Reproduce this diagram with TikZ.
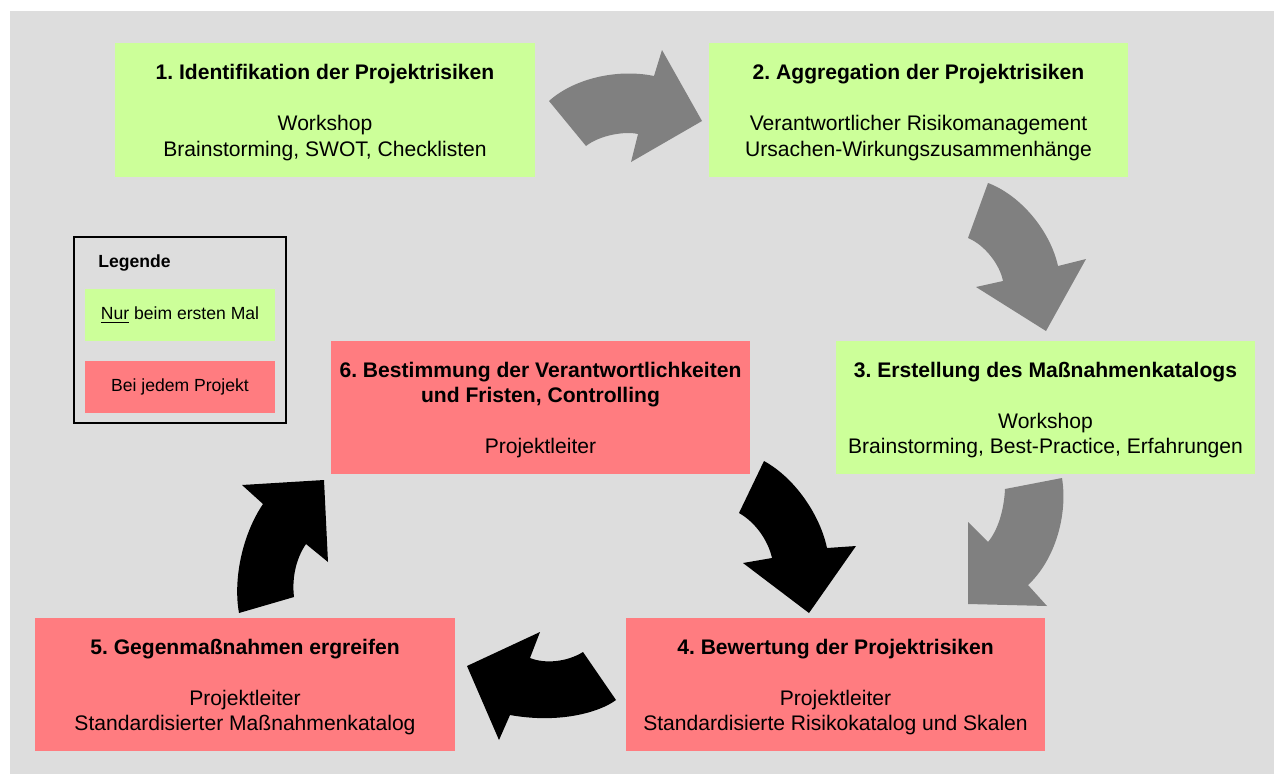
\documentclass[tikz,border=0pt]{standalone}
\usepackage{fontspec}
\setmainfont{Liberation Sans}
\frenchspacing
\usetikzlibrary{positioning}
\definecolor{bggray}{HTML}{DDDDDD}
\definecolor{firstgreen}{HTML}{CCFF99}
\definecolor{eachred}{HTML}{FF7C80}
\definecolor{arrgray}{HTML}{808080}
\newcommand{\topstrut}{\rule{0pt}{11.5pt}}
\tikzset{
  box/.style    = {rectangle, inner sep=0pt, align=center,
                   minimum width=8.4cm, minimum height=2.68cm,
                   font=\fontsize{12}{14.5}\selectfont},
  first/.style  = {box, fill=firstgreen},
  each/.style   = {box, fill=eachred},
  swatch/.style = {rectangle, inner sep=0pt, minimum width=3.8cm,
                   minimum height=1.04cm, font=\fontsize{10}{12}\selectfont},
  grayarr/.style  = {fill=arrgray},
  blackarr/.style = {fill=black}
}

\begin{document}
\begin{tikzpicture}[x=0.02cm,y=-0.02cm]
  \useasboundingbox (0,0) rectangle (1274,774);
  \fill[bggray] (10,11) rectangle (1274,774);
  % Prozessschritte
  \node[first] (s1) at (325,110)
    {\topstrut\textbf{1. Identifikation der Projektrisiken}\\[\baselineskip]Workshop\\Brainstorming, SWOT, Checklisten};
  \node[first] (s2) at (918.5,110)
    {\topstrut\textbf{2. Aggregation der Projektrisiken}\\[\baselineskip]Verantwortlicher Risikomanagement\\Ursachen-Wirkungszusammenhänge};
  \node[first] (s3) at (1045.5,407.5)
    {\topstrut\textbf{3. Erstellung des Maßnahmenkatalogs}\\[\baselineskip]Workshop\\Brainstorming, Best-Practice, Erfahrungen};
  \node[each] (s4) at (835.5,684.5)
    {\topstrut\textbf{4. Bewertung der Projektrisiken}\\[\baselineskip]Projektleiter\\Standardisierte Risikokatalog und Skalen};
  \node[each] (s5) at (245,684.5)
    {\topstrut\textbf{5. Gegenmaßnahmen ergreifen}\\[\baselineskip]Projektleiter\\Standardisierter Maßnahmenkatalog};
  \node[each] (s6) at (540.5,407.5)
    {\topstrut\textbf{6. Bestimmung der Verantwortlichkeiten}\\\textbf{und Fristen, Controlling}\\[\baselineskip]Projektleiter};
  % Legende
  \node[draw=black, line width=0.8pt, minimum width=4.24cm, minimum height=3.72cm] (leg) at (180,330) {};
  \node[anchor=west, inner sep=0pt, font=\fontsize{10}{12}\selectfont\bfseries] (legtitle) at (98,263) {Legende};
  \node[swatch, fill=firstgreen] (legfirst) at (180,315) {\underline{Nur} beim ersten Mal};
  \node[swatch, fill=eachred] (legeach) at (180,387) {Bei jedem Projekt};
  % Pfeile
  \fill[grayarr] (549,101) .. controls (572,80) and (615,68) .. (654,76) -- (662,50) -- (702,121) -- (631,162)
    -- (638,134) .. controls (625,131) and (600,135) .. (586,146) -- cycle;
  \fill[grayarr] (988,183) .. controls (1020,195) and (1050,230) .. (1058,266) -- (1086,259) -- (1046,331) -- (976,287)
    -- (1003,281) .. controls (1000,265) and (985,245) .. (968,238) -- cycle;
  \fill[grayarr] (1062,478) .. controls (1068,515) and (1055,560) .. (1028,585) -- (1047,606) -- (968,604) -- (968,522)
    -- (988,542) .. controls (998,530) and (1004,510) .. (1005,489) -- cycle;
  \fill[blackarr] (764,461) .. controls (795,478) and (820,515) .. (827,548) -- (856,546) -- (809,613) -- (743,563)
    -- (772,558) .. controls (768,540) and (755,522) .. (739,513) -- cycle;
  \fill[blackarr] (616,700) .. controls (600,712) and (560,724) .. (510,715) -- (499,740) -- (467,666) -- (540,632)
    -- (530,658) .. controls (545,664) and (567,662) .. (583,652) -- cycle;
  \fill[blackarr] (239,613) .. controls (233,580) and (242,535) .. (263,504) -- (242,485) -- (324,480) -- (328,562)
    -- (306,544) .. controls (295,560) and (292,580) .. (294,597) -- cycle;
\end{tikzpicture}
\end{document}
